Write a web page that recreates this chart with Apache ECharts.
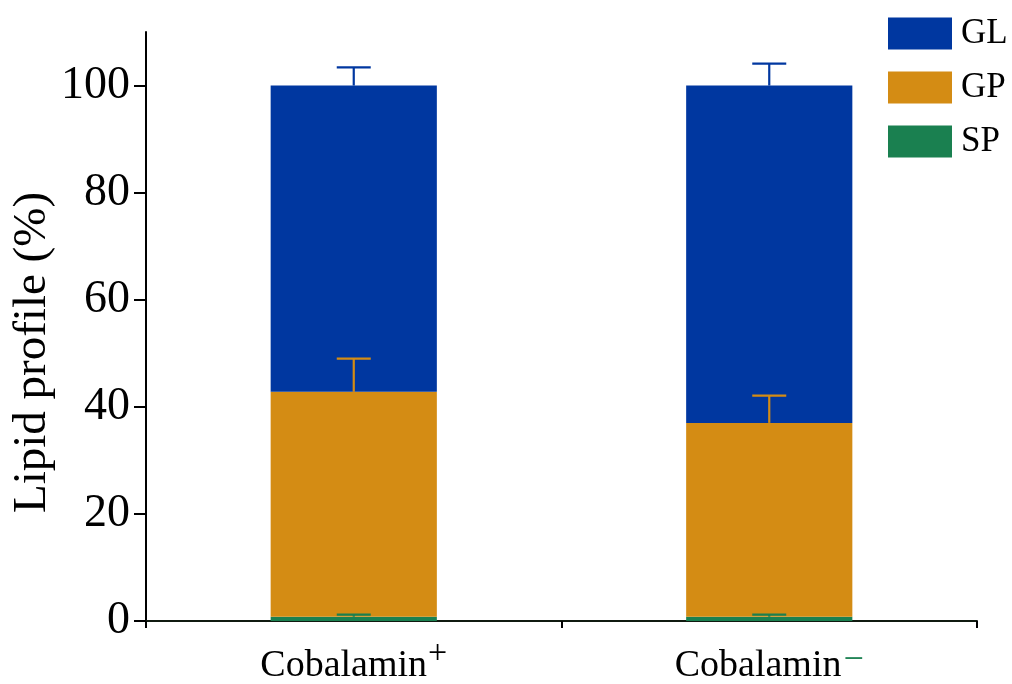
<!DOCTYPE html>
<html>
<head>
<meta charset="utf-8">
<script src="https://cdn.jsdelivr.net/npm/echarts@6/dist/echarts.min.js"></script>
<style>
  html, body { margin: 0; padding: 0; background: #fff; }
  #chart { width: 1012px; height: 684px; }
</style>
</head>
<body>
<div id="chart"></div>
<script>
// Lipid class composition (%) under two cobalamin conditions
const categories = ['Cobalamin+', 'Cobalamin-'];
const seriesNames = ['SP', 'GP', 'GL'];
const spValues = [0.8, 0.8];
const gpValues = [42.0, 36.2];
const glValues = [57.2, 63.0];
const spErrors = [0.4, 0.4];
const gpErrors = [6.2, 5.1];
const glErrors = [3.4, 4.1];
const yTicks = [0, 20, 40, 60, 80, 100];

const colors = { SP: '#1a8050', GP: '#d48c14', GL: '#0037a0' };
const serif = '"Liberation Serif", "DejaVu Serif", serif';

// cumulative stack tops, used as the base of each error bar
const spTop = spValues.map(v => v);
const gpTop = gpValues.map((v, i) => spTop[i] + v);
const glTop = glValues.map((v, i) => gpTop[i] + v);

function errorSeries(name, tops, errs, color) {
  return {
    type: 'custom',
    name: name + ' error',
    z: 5,
    data: tops.map((t, i) => [i, t, t + errs[i]]),
    renderItem: function (params, api) {
      const base = api.coord([api.value(0), api.value(1)]);
      const top = api.coord([api.value(0), api.value(2)]);
      const half = 17;
      const style = { stroke: color, lineWidth: 2.2 };
      return {
        type: 'group',
        children: [
          { type: 'line', shape: { x1: base[0], y1: base[1], x2: top[0], y2: top[1] }, style: style },
          { type: 'line', shape: { x1: top[0] - half, y1: top[1], x2: top[0] + half, y2: top[1] }, style: style }
        ]
      };
    }
  };
}

const chart = echarts.init(document.getElementById('chart'));
chart.setOption({
  animation: false,
  backgroundColor: '#ffffff',
  grid: { left: 146, right: 35, top: 32, bottom: 63, outerBoundsMode: 'none', containLabel: false },
  legend: {
    data: ['GL', 'GP', 'SP'],
    orient: 'vertical',
    left: 883,
    top: 11,
    itemWidth: 64,
    itemHeight: 32,
    itemGap: 19,
    icon: 'rect',
    textStyle: { fontFamily: serif, fontSize: 35, lineHeight: 32, color: '#000', padding: [0, 0, 0, 4] }
  },
  xAxis: {
    type: 'category',
    data: categories,
    axisLine: { lineStyle: { color: '#101a10', width: 2 } },
    axisTick: { show: true, length: 7, lineStyle: { color: '#000', width: 2 } },
    axisLabel: {
      margin: 16,
      formatter: function (v) {
        return v.endsWith('+') ? '{a|Cobalamin}{p|+}' : '{a|Cobalamin}{m|\u2212}';
      },
      rich: {
        a: { fontFamily: serif, fontSize: 38, color: '#000', lineHeight: 48, verticalAlign: 'bottom' },
        p: { fontFamily: serif, fontSize: 34, color: '#000', lineHeight: 48, verticalAlign: 'top', padding: [0, 0, 0, 1] },
        m: { fontFamily: serif, fontSize: 36, color: colors.SP, lineHeight: 48, verticalAlign: 'top', padding: [6, 0, 0, 2] }
      }
    }
  },
  yAxis: {
    type: 'value',
    min: 0,
    max: 110,
    interval: 20,
    name: 'Lipid profile (%)',
    nameLocation: 'middle',
    nameGap: 90,
    nameMoveOverlap: false,
    nameTextStyle: { fontFamily: serif, fontSize: 47, color: '#000', padding: [0, 52, 0, 0] },
    splitLine: { show: false },
    axisLine: { show: true, lineStyle: { color: '#000', width: 2 } },
    axisTick: { show: true, length: 12, lineStyle: { color: '#000', width: 2 } },
    axisLabel: {
      fontFamily: serif, fontSize: 46, color: '#000', margin: 16,
      showMaxLabel: false,
      formatter: function (v) { return yTicks.indexOf(v) >= 0 ? String(v) : ''; }
    }
  },
  series: [
    { type: 'bar', name: 'SP', stack: 'lipid', barWidth: '40%', data: spValues, itemStyle: { color: colors.SP } },
    { type: 'bar', name: 'GP', stack: 'lipid', barWidth: '40%', data: gpValues, itemStyle: { color: colors.GP } },
    { type: 'bar', name: 'GL', stack: 'lipid', barWidth: '40%', data: glValues, itemStyle: { color: colors.GL } },
    errorSeries('SP', spTop, spErrors, colors.SP),
    errorSeries('GP', gpTop, gpErrors, colors.GP),
    errorSeries('GL', glTop, glErrors, colors.GL)
  ]
});
</script>
</body>
</html>
